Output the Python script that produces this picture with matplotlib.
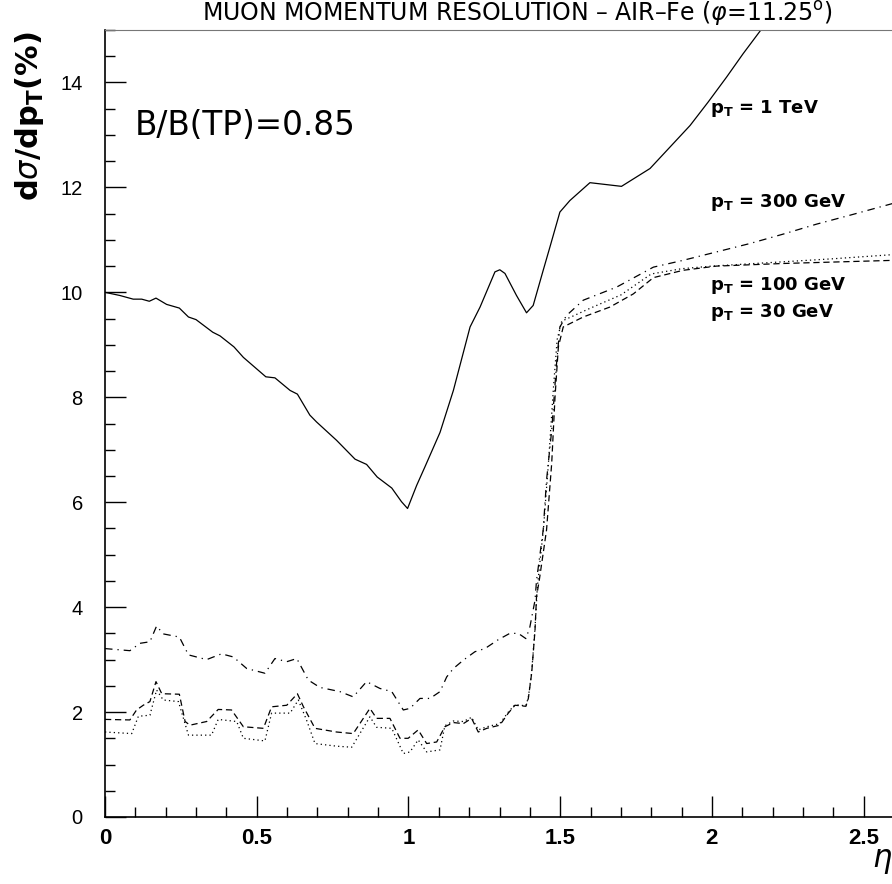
import matplotlib.pyplot as plt
from matplotlib.ticker import MultipleLocator

eta_1tev = [0.0, 0.049, 0.093, 0.121, 0.146, 0.168, 0.203, 0.245, 0.275, 0.300, 0.355, 0.379,
            0.425, 0.456, 0.530, 0.560, 0.610, 0.634, 0.675, 0.697, 0.763, 0.824, 0.862, 0.897,
            0.945, 0.977, 0.997, 1.027, 1.054, 1.104, 1.148, 1.203, 1.236, 1.285, 1.301, 1.318,
            1.356, 1.389, 1.411, 1.444, 1.466, 1.499, 1.532, 1.598, 1.702, 1.796, 1.862, 1.928,
            1.988, 2.048, 2.103, 2.160, 2.25]
res_1tev = [10.0, 9.94, 9.87, 9.87, 9.83, 9.89, 9.77, 9.70, 9.53, 9.48, 9.24, 9.17,
            8.96, 8.76, 8.39, 8.37, 8.13, 8.06, 7.66, 7.53, 7.18, 6.82, 6.72, 6.48,
            6.27, 6.01, 5.88, 6.32, 6.67, 7.33, 8.13, 9.34, 9.72, 10.39, 10.43, 10.36,
            9.94, 9.61, 9.75, 10.42, 10.86, 11.53, 11.75, 12.09, 12.02, 12.36, 12.77, 13.18,
            13.63, 14.10, 14.55, 14.99, 15.7]

eta_300 = [0.0, 0.082, 0.115, 0.148, 0.170, 0.192, 0.245, 0.275, 0.335, 0.384, 0.423, 0.467,
           0.527, 0.560, 0.599, 0.632, 0.670, 0.708, 0.774, 0.818, 0.862, 0.906, 0.945, 0.983,
           1.005, 1.038, 1.071, 1.104, 1.126, 1.148, 1.181, 1.219, 1.252, 1.296, 1.334, 1.362,
           1.387, 1.400, 1.417, 1.422, 1.444, 1.455, 1.472, 1.488, 1.499, 1.521, 1.576, 1.686,
           1.807, 1.905, 2.015, 2.125, 2.235, 2.345, 2.455, 2.6]
res_300 = [3.21, 3.17, 3.31, 3.34, 3.64, 3.49, 3.43, 3.09, 3.00, 3.11, 3.05, 2.83,
           2.74, 3.02, 2.96, 3.02, 2.61, 2.47, 2.39, 2.29, 2.58, 2.45, 2.39, 2.04,
           2.07, 2.26, 2.26, 2.39, 2.67, 2.83, 2.99, 3.15, 3.21, 3.38, 3.50, 3.50,
           3.40, 3.62, 4.13, 4.51, 5.47, 6.42, 7.37, 8.64, 9.34, 9.56, 9.85, 10.10,
           10.48, 10.61, 10.77, 10.93, 11.11, 11.30, 11.47, 11.70]

eta_100 = [0.0, 0.082, 0.104, 0.126, 0.148, 0.168, 0.187, 0.245, 0.264, 0.280, 0.335, 0.373,
           0.417, 0.456, 0.522, 0.549, 0.599, 0.634, 0.654, 0.692, 0.763, 0.818, 0.873, 0.895,
           0.939, 0.972, 0.999, 1.032, 1.060, 1.093, 1.120, 1.148, 1.181, 1.208, 1.230, 1.258,
           1.301, 1.329, 1.351, 1.387, 1.395, 1.406, 1.417, 1.422, 1.431, 1.455, 1.472, 1.483,
           1.494, 1.510, 1.576, 1.664, 1.741, 1.807, 1.905, 2.015, 2.235, 2.6]
res_100 = [1.86, 1.85, 2.04, 2.13, 2.20, 2.58, 2.35, 2.34, 1.82, 1.75, 1.82, 2.05,
           2.04, 1.72, 1.69, 2.10, 2.13, 2.35, 2.10, 1.69, 1.62, 1.59, 2.07, 1.88,
           1.88, 1.50, 1.50, 1.66, 1.40, 1.43, 1.72, 1.80, 1.78, 1.88, 1.62, 1.69,
           1.75, 1.98, 2.13, 2.11, 2.26, 2.74, 3.56, 4.20, 4.51, 5.47, 6.74, 8.01,
           8.96, 9.34, 9.53, 9.72, 9.97, 10.28, 10.42, 10.50, 10.55, 10.61]

eta_30 = [0.0, 0.088, 0.110, 0.148, 0.170, 0.192, 0.242, 0.275, 0.351, 0.373, 0.434, 0.456,
          0.527, 0.549, 0.610, 0.637, 0.664, 0.692, 0.763, 0.813, 0.873, 0.895, 0.945, 0.983,
          1.005, 1.032, 1.060, 1.104, 1.120, 1.148, 1.181, 1.208, 1.230, 1.258, 1.301, 1.329,
          1.351, 1.387, 1.395, 1.406, 1.417, 1.425, 1.445, 1.462, 1.478, 1.490, 1.505, 1.600,
          1.700, 1.800, 1.900, 2.000, 2.200, 2.400, 2.6]
res_30 = [1.62, 1.59, 1.92, 1.94, 2.42, 2.23, 2.20, 1.56, 1.56, 1.86, 1.82, 1.50,
          1.45, 1.98, 1.98, 2.23, 1.85, 1.40, 1.35, 1.33, 1.91, 1.71, 1.69, 1.21,
          1.24, 1.47, 1.24, 1.28, 1.74, 1.83, 1.82, 1.90, 1.66, 1.72, 1.78, 2.00,
          2.14, 2.12, 2.28, 2.76, 3.60, 4.40, 5.50, 6.80, 8.20, 9.10, 9.45, 9.70,
          9.95, 10.35, 10.45, 10.50, 10.57, 10.64, 10.72]

x_ticks = [0, 0.5, 1, 1.5, 2, 2.5]
x_ticklabels = ["0", "0.5", "1", "1.5", "2", "2.5"]
y_ticks = [0, 2, 4, 6, 8, 10, 12, 14]
y_ticklabels = ["0", "2", "4", "6", "8", "10", "12", "14"]

labels = ["p$_\\mathregular{T}$ = 1 TeV", "p$_\\mathregular{T}$ = 300 GeV",
          "p$_\\mathregular{T}$ = 100 GeV", "p$_\\mathregular{T}$ = 30 GeV"]
label_y = [13.50, 11.72, 10.13, 9.62]

fig = plt.figure(figsize=(8.92, 8.84), dpi=100)
ax = fig.add_axes([105 / 892, 67 / 884, (894 - 105) / 892, (817 - 30) / 884])

ax.plot(eta_1tev, res_1tev, color="black", linewidth=0.9)
ax.plot(eta_300, res_300, color="black", linewidth=0.9, dashes=(6, 4, 1, 4))
ax.plot(eta_100, res_100, color="black", linewidth=0.9, dashes=(5, 3))
ax.plot(eta_30, res_30, color="black", linewidth=0.9, dashes=(1, 2.5))

ax.set_xlim(0, 2.6)
ax.set_ylim(0, 15)

ax.set_xticks(x_ticks, x_ticklabels, fontfamily="Liberation Sans", fontweight="bold", fontsize=16)
ax.set_yticks(y_ticks, y_ticklabels, fontfamily="Liberation Sans", fontsize=14.5)
ax.xaxis.set_minor_locator(MultipleLocator(0.1))
ax.yaxis.set_minor_locator(MultipleLocator(0.5))
ax.tick_params(which="both", direction="in", top=False, right=False, width=1)
ax.tick_params(which="major", length=15)
ax.tick_params(which="minor", length=7)
ax.tick_params(axis="y", pad=16)
ax.tick_params(axis="x", pad=8)

ax.spines["right"].set_visible(False)
ax.spines["top"].set_color("#777777")
ax.spines["left"].set_linewidth(1.2)
ax.spines["bottom"].set_linewidth(1.2)

fig.text(517 / 892, 1 - 14 / 884, "MUON MOMENTUM RESOLUTION \u2013 AIR\u2013Fe ($\\varphi$=11.25$^\\mathregular{o}$)",
         ha="center", va="center", fontsize=17)
fig.text(30 / 892, 1 - 116 / 884, "d$\\sigma$/dp$_\\mathregular{T}$(%)", rotation=90,
         ha="center", va="center", fontsize=22, fontweight="bold")
fig.text(882 / 892, 1 - 862 / 884, "$\\eta$", ha="center", va="center", fontsize=22)

ax.text(0.099, 13.18, "B/B(TP)=0.85", fontsize=23.5, va="center", ha="left")
for txt, yv in zip(labels, label_y):
    ax.text(1.995, yv, txt, fontsize=13, fontweight="bold", va="center")

fig.savefig("out.png", dpi=100)
